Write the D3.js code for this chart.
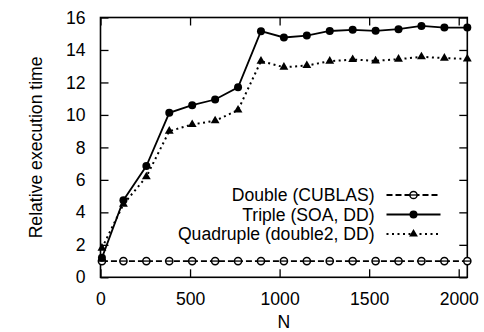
<!DOCTYPE html>
<html>
<head>
<meta charset="utf-8">
<script src="https://cdn.jsdelivr.net/npm/d3@7"></script>
<style>
    body { margin: 0; background: #fff; }
    svg text { font-family: "Liberation Sans", Arial, sans-serif; fill: #000; }
</style>
</head>
<body>
<div class="chart"></div>
<script>
// matrix size N and relative times
const sizes = [8, 128, 256, 384, 512, 640, 768, 896, 1024, 1152, 1280, 1408, 1536, 1664, 1792, 1920, 2048];
const doubleCublas = [1, 1, 1, 1, 1, 1, 1, 1, 1, 1, 1, 1, 1, 1, 1, 1, 1];
const tripleSoa = [1.2, 4.75, 6.85, 10.13, 10.6, 10.95, 11.7, 15.16, 14.77, 14.89, 15.17, 15.24, 15.18, 15.28, 15.48, 15.38, 15.38];
const quadDouble2 = [1.8, 4.5, 6.19, 9.0, 9.41, 9.64, 10.3, 13.31, 12.94, 13.04, 13.31, 13.41, 13.33, 13.43, 13.58, 13.5, 13.45];
const xTicks = [0, 500, 1000, 1500, 2000];
const yTicks = [0, 2, 4, 6, 8, 10, 12, 14, 16];
const seriesNames = ["Double (CUBLAS)", "Triple (SOA, DD)", "Quadruple (double2, DD)"];

const svgWidth = 484;
const svgHeight = 332;
const margin = { top: 17.5, right: 16.7, bottom: 54.7, left: 100.5 };
const width = svgWidth - margin.left - margin.right;
const height = svgHeight - margin.top - margin.bottom;

const svg = d3.select(".chart")
    .append("svg")
    .attr("width", svgWidth)
    .attr("height", svgHeight)
    .append("g")
    .attr("transform", `translate(${margin.left},${margin.top})`);

const x = d3.scaleLinear().domain([0, 2048]).range([0, width]);
const y = d3.scaleLinear().domain([0, 16]).range([height, 0]);

const tickLen = 8;
const fontSize = "17.6px";

// ticks on all four sides, pointing inward (gnuplot style)
svg.append("g")
    .attr("transform", `translate(0,${height})`)
    .call(d3.axisBottom(x).tickValues(xTicks).tickSize(-tickLen).tickPadding(tickLen + 7).tickFormat(d3.format("d")))
    .call(g => g.select(".domain").remove())
    .call(g => g.selectAll("text").style("font-size", fontSize));
svg.append("g")
    .call(d3.axisTop(x).tickValues(xTicks).tickSize(-tickLen).tickFormat(""))
    .call(g => g.select(".domain").remove());
svg.append("g")
    .call(d3.axisLeft(y).tickValues(yTicks).tickSize(-tickLen).tickPadding(tickLen + 7))
    .call(g => g.select(".domain").remove())
    .call(g => g.selectAll("text").style("font-size", fontSize));
svg.append("g")
    .attr("transform", `translate(${width},0)`)
    .call(d3.axisRight(y).tickValues(yTicks).tickSize(-tickLen).tickFormat(""))
    .call(g => g.select(".domain").remove());

svg.selectAll(".tick line").attr("stroke", "#000").attr("stroke-width", 1.3);

// frame
svg.append("rect")
    .attr("width", width)
    .attr("height", height)
    .attr("fill", "none")
    .attr("stroke", "#000")
    .attr("stroke-width", 1.6);

// axis titles
svg.append("text")
    .attr("x", width / 2)
    .attr("y", height + 51)
    .attr("text-anchor", "middle")
    .style("font-size", fontSize)
    .text("N");
svg.append("text")
    .attr("transform", `translate(${-59},${height / 2}) rotate(-90)`)
    .attr("text-anchor", "middle")
    .style("font-size", fontSize)
    .text("Relative execution time");

const series = [
    { name: seriesNames[0], values: doubleCublas, dash: "6,3", marker: "open" },
    { name: seriesNames[1], values: tripleSoa, dash: null, marker: "dot" },
    { name: seriesNames[2], values: quadDouble2, dash: "2,3.5", marker: "tri" }
];

const line = d3.line()
    .x((d, i) => x(sizes[i]))
    .y(d => y(d));

function drawMarker(g, type) {
    if (type === "open") {
        g.append("circle").attr("r", 3.6).attr("fill", "#fff").attr("stroke", "#000").attr("stroke-width", 1.5);
        g.append("line").attr("x1", -3.6).attr("x2", 3.6).attr("stroke", "#000").attr("stroke-width", 1.3);
    } else if (type === "dot") {
        g.append("circle").attr("r", 4).attr("fill", "#000");
    } else {
        g.append("path").attr("d", d3.symbol(d3.symbolTriangle, 34)()).attr("fill", "#000");
    }
}

// series lines and markers
series.forEach(s => {
    svg.append("path")
        .datum(s.values)
        .attr("d", line)
        .attr("fill", "none")
        .attr("stroke", "#000")
        .attr("stroke-width", s.dash === "2,3.5" ? 2 : 1.8)
        .attr("stroke-dasharray", s.dash);

    s.values.forEach((v, i) => {
        const g = svg.append("g").attr("transform", `translate(${x(sizes[i])},${y(v)})`);
        drawMarker(g, s.marker);
    });
});

// legend
const legendX = 274;
const legendY = [177.5, 197, 216.5];
series.forEach((s, i) => {
    const g = svg.append("g").attr("transform", `translate(0,${legendY[i]})`);
    g.append("text")
        .attr("x", legendX)
        .attr("y", 6)
        .attr("text-anchor", "end")
        .style("font-size", fontSize)
        .text(s.name);
    g.append("line")
        .attr("x1", legendX + 12)
        .attr("x2", legendX + 66)
        .attr("stroke", "#000")
        .attr("stroke-width", s.dash === "2,3.5" ? 2 : 1.8)
        .attr("stroke-dasharray", s.dash);
    const m = g.append("g").attr("transform", `translate(${legendX + 39},0)`);
    drawMarker(m, s.marker);
});
</script>
</body>
</html>
